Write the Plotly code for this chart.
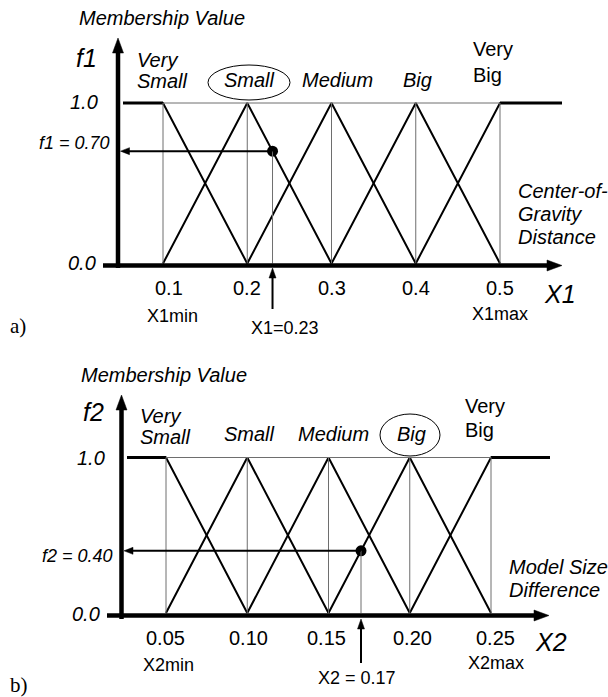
import plotly.graph_objects as go

W, H = 608, 697
SANS = "Liberation Sans, Arial, sans-serif"
SERIF = "Liberation Serif, Times New Roman, serif"
INK = "black"
GRID = "#6e6e6e"

# ---------------- data ----------------
term_lines = [["Very", "Small"], ["Small"], ["Medium"], ["Big"], ["Very", "Big"]]
x1_centers = [0.1, 0.2, 0.3, 0.4, 0.5]
x1_tick_text = ["0.1", "0.2", "0.3", "0.4", "0.5"]
x2_centers = [0.05, 0.10, 0.15, 0.20, 0.25]
x2_tick_text = ["0.05", "0.10", "0.15", "0.20", "0.25"]
x1_value, f1_value = 0.23, 0.70
x2_value, f2_value = 0.17, 0.40

# ---------------- panel geometry (pixel frame of each panel) ----------------
panels = [
    dict(xa="x", ya="y", xo=78.75, xs=842.5, yo=263.5, ys=160.5, rows=(0, 348),
         centers=x1_centers, ticks=x1_tick_text, xin=x1_value, fin=f1_value,
         shoulder=(123, 562), xaxis_px=(103, 562, 265.5), yaxis_px=(118, 268, 38),
         fname="f1", xname="X1", tick_py=288, tick_shift=[6, 0, 0, 0, 0],
         term_py=80, term_shift=[0, 2, 6, 2, 0], vs_px=(135, 60, 81), vb_px=(471, 49, 75),
         circled=1, ellipse=(208, 65, 290, 100),
         title_px=(162, 18), fname_px=(87, 58), one_px=(100, 102), zero_px=(98, 263),
         fval_px=(112, 143), fval_text="f1 = 0.70",
         side_px=(516, [191, 214, 237]), side_text=["Center-of-", "Gravity", "Distance"],
         xname_px=(560, 294), min_px=(172, 316), max_px=(500, 314),
         xval_px=(285, 328), xval_text="X1=0.23", up_px=(309, 268),
         tag_px=(8, 326), tag="a)", min_text="X1min", max_text="X1max"),
    dict(xa="x2", ya="y2", xo=84.75, xs=1625.0, yo=613.0, ys=155.5, rows=(348, 697),
         centers=x2_centers, ticks=x2_tick_text, xin=x2_value, fin=f2_value,
         shoulder=(127, 550), xaxis_px=(107, 549, 615.5), yaxis_px=(121.5, 619, 395),
         fname="f2", xname="X2", tick_py=638, tick_shift=[-1, 1, -2, 3, 4],
         term_py=434, term_shift=[0, 2, 5, 2, 0], vs_px=(138, 416, 437), vb_px=(463, 406, 430),
         circled=3, ellipse=(380, 414, 440, 456),
         title_px=(164, 375), fname_px=(93, 412), one_px=(107, 458), zero_px=(102, 614),
         fval_px=(115, 556), fval_text="f2 = 0.40",
         side_px=(507, [567, 590]), side_text=["Model Size", "Difference"],
         xname_px=(551, 642), min_px=(168, 665), max_px=(496, 663),
         xval_px=(357, 678), xval_text="X2 = 0.17", up_px=(663, 619),
         tag_px=(8, 685), tag="b)", min_text="X2min", max_text="X2max"),
]


def dx(p, px):
    return (px - p["xo"]) / p["xs"]


def dy(p, py):
    return (p["yo"] - py) / p["ys"]


def to_px(p, x):
    return p["xo"] + p["xs"] * x


def to_py(p, y):
    return p["yo"] - p["ys"] * y


fig = go.Figure()
shapes = []
annotations = []


def seg(p, x0, y0, x1, y1, width, color=INK):
    shapes.append(dict(type="line", xref=p["xa"], yref=p["ya"], x0=x0, y0=y0, x1=x1, y1=y1,
                       line=dict(color=color, width=width), layer="above"))


def arrow_px(p, tx, ty, hx, hy, width, head_len, head_half):
    """Arrow drawn in the panel's pixel frame: tail (tx, ty) -> tip (hx, hy)."""
    L = ((hx - tx) ** 2 + (hy - ty) ** 2) ** 0.5
    ux, uy = (hx - tx) / L, (hy - ty) / L
    bx, by = hx - ux * head_len, hy - uy * head_len
    seg(p, dx(p, tx), dy(p, ty), dx(p, bx + ux), dy(p, by + uy), width)
    nx, ny = -uy, ux
    pts = [(hx, hy), (bx + nx * head_half, by + ny * head_half), (bx - nx * head_half, by - ny * head_half)]
    path = "M " + " L ".join(f"{dx(p, a)},{dy(p, b)}" for a, b in pts) + " Z"
    shapes.append(dict(type="path", xref=p["xa"], yref=p["ya"], path=path,
                       fillcolor=INK, line=dict(color=INK, width=0.5), layer="above"))


def text(px, py, s, size, xanchor="center", italic=True, family=SANS, xref="paper", x=None):
    annotations.append(dict(
        x=(px / W) if x is None else x, xref=xref if x is not None else "paper",
        y=1 - py / H, yref="paper",
        text=f"<i>{s}</i>" if italic else s, showarrow=False,
        xanchor=xanchor, yanchor="middle",
        font=dict(family=family, size=size, color=INK)))


for p in panels:
    c = p["centers"]
    n = len(c)
    left_end, right_end = dx(p, p["shoulder"][0]), dx(p, p["shoulder"][1])

    # thin reference lines: level 1.0 and verticals under each peak
    seg(p, c[0], 1.0, c[-1], 1.0, 1, GRID)
    for v in c:
        seg(p, v, 0.0, v, 1.0, 1, GRID)
    seg(p, p["xin"], 0.0, p["xin"], p["fin"], 1, GRID)

    # membership functions
    for i, v in enumerate(c):
        xs, ys = [], []
        if i == 0:
            xs.append(left_end); ys.append(1.0)
        else:
            xs.append(c[i - 1]); ys.append(0.0)
        xs.append(v); ys.append(1.0)
        if i == n - 1:
            xs.append(right_end); ys.append(1.0)
        else:
            xs.append(c[i + 1]); ys.append(0.0)
        fig.add_trace(go.Scatter(x=xs, y=ys, mode="lines", xaxis=p["xa"], yaxis=p["ya"],
                                 line=dict(color=INK, width=2), hoverinfo="skip", showlegend=False))
    # heavier shoulders of the outer sets
    fig.add_trace(go.Scatter(x=[left_end, c[0]], y=[1.0, 1.0], mode="lines", xaxis=p["xa"], yaxis=p["ya"],
                             line=dict(color=INK, width=3), hoverinfo="skip", showlegend=False))
    fig.add_trace(go.Scatter(x=[c[-1], right_end], y=[1.0, 1.0], mode="lines", xaxis=p["xa"], yaxis=p["ya"],
                             line=dict(color=INK, width=3), hoverinfo="skip", showlegend=False))

    # input point
    fig.add_trace(go.Scatter(x=[p["xin"]], y=[p["fin"]], mode="markers", xaxis=p["xa"], yaxis=p["ya"],
                             marker=dict(color=INK, size=11), hoverinfo="skip", showlegend=False))

    # axes with arrowheads
    ax0, ax1, ay_ = p["xaxis_px"]
    arrow_px(p, ax0, ay_, ax1, ay_, 4.5, 15, 5.5)
    yx_, yy0, yy1 = p["yaxis_px"]
    arrow_px(p, yx_, yy0, yx_, yy1, 4.5, 15, 5.5)

    # read-off arrows
    arrow_px(p, to_px(p, p["xin"]), to_py(p, p["fin"]), yx_ + 2.5, to_py(p, p["fin"]), 2, 9, 3.5)
    arrow_px(p, to_px(p, p["xin"]), p["up_px"][0], to_px(p, p["xin"]), p["up_px"][1], 2, 10, 3.5)

    # ellipse around the selected term
    ex0, ey0, ex1, ey1 = p["ellipse"]
    shapes.append(dict(type="circle", xref=p["xa"], yref=p["ya"], x0=dx(p, ex0), x1=dx(p, ex1),
                       y0=dy(p, ey1), y1=dy(p, ey0), line=dict(color=INK, width=1), layer="above"))

    # term labels
    for i, lines in enumerate(term_lines):
        if i == 0:
            lx, y1, y2 = p["vs_px"]
            text(lx, y1, lines[0], 20, "left")
            text(lx, y2, lines[1], 20, "left")
        elif i == n - 1:
            lx, y1, y2 = p["vb_px"]
            text(lx, y1, lines[0], 20, "left", italic=False)
            text(lx, y2, lines[1], 20, "left", italic=False)
        else:
            px = to_px(p, c[i]) + p["term_shift"][i]
            text(px, p["term_py"], lines[0], 20)

    # tick labels
    for v, t, sh in zip(c, p["ticks"], p["tick_shift"]):
        text(to_px(p, v) + sh, p["tick_py"], t, 20, italic=False)

    text(*p["title_px"], "Membership Value", 20)
    text(*p["fname_px"], p["fname"], 25)
    text(p["one_px"][0], p["one_px"][1], "1.0", 20, "right")
    text(p["zero_px"][0], p["zero_px"][1], "0.0", 20, "right")
    text(p["fval_px"][0], p["fval_px"][1], p["fval_text"], 18, "right")
    for s, yy in zip(p["side_text"], p["side_px"][1]):
        text(p["side_px"][0], yy, s, 20, "left")
    text(*p["xname_px"], p["xname"], 25)
    text(*p["min_px"], p["min_text"], 18, italic=False)
    text(*p["max_px"], p["max_text"], 18, italic=False)
    text(*p["xval_px"], p["xval_text"], 18, italic=False)
    text(p["tag_px"][0], p["tag_px"][1], p["tag"], 21, "left", italic=False, family=SERIF)

layout_axes = {}
for k, p in enumerate(panels):
    sx = "" if k == 0 else str(k + 1)
    r0, r1 = p["rows"]
    layout_axes[f"xaxis{sx}"] = dict(domain=[0, 1], range=[dx(p, 0), dx(p, W)], visible=False,
                                     anchor=p["ya"], fixedrange=True)
    layout_axes[f"yaxis{sx}"] = dict(domain=[1 - r1 / H, 1 - r0 / H], range=[dy(p, r1), dy(p, r0)],
                                     visible=False, anchor=p["xa"], fixedrange=True)

fig.update_layout(
    width=W, height=H, margin=dict(l=0, r=0, t=0, b=0),
    paper_bgcolor="white", plot_bgcolor="white",
    shapes=shapes, annotations=annotations, showlegend=False,
    **layout_axes,
)

fig.write_html("out.html", config={"displayModeBar": False})
